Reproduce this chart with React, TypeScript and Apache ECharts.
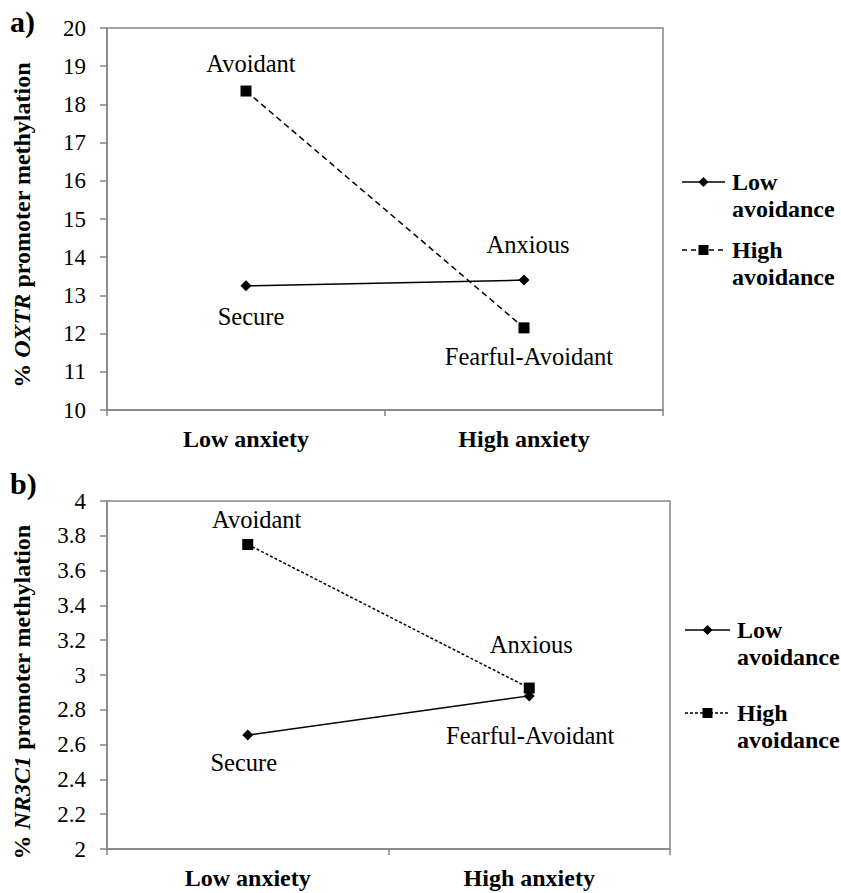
import React, { useEffect, useRef } from 'react';
import * as echarts from 'echarts';

const categories = ['Low anxiety', 'High anxiety'];
const seriesNames = ['Low avoidance', 'High avoidance'];
const legendLines = [['Low', 'avoidance'], ['High', 'avoidance']];
const oxtrLowAvoid = [13.25, 13.4];
const oxtrHighAvoid = [18.35, 12.15];
const nr3c1LowAvoid = [2.655, 2.88];
const nr3c1HighAvoid = [3.75, 2.925];
const lowAvoidStyles = ['Secure', 'Anxious'];
const highAvoidStyles = ['Avoidant', 'Fearful-Avoidant'];
const oxtrRange = { min: 10, max: 20, interval: 1 };
const nr3c1Range = { min: 2, max: 4, interval: 0.2 };

const FONT = 'Liberation Serif';

// label offsets (styling)
const offA = { low: [[5, 31], [4, -36]], high: [[5, -28], [5, 29]] };
const offB = { low: [[-4, 27], [2, -51]], high: [[9, -25], [1, 47]] };

function mkData(values: number[], names: string[], offs: number[][]) {
  return values.map((v, i) => ({
    value: v,
    label: {
      show: true,
      position: 'inside',
      offset: offs[i],
      formatter: names[i],
      fontFamily: FONT,
      fontSize: 24.5,
      color: '#000',
    },
  }));
}

function legendGraphics(x0: number, x1: number, yLow: number, yHigh: number, dashB: number[]) {
  const xm = (x0 + x1) / 2;
  const d = 5;
  const textStyle = (y: number, lines: string[]) => ({
    type: 'text',
    x: x1 + 7,
    y: y - 14,
    style: {
      text: lines.join('\n'),
      fontFamily: FONT,
      fontSize: 24,
      fontWeight: 'bold',
      fill: '#000',
      lineHeight: 27,
      verticalAlign: 'top',
    },
  });
  return [
    { type: 'line', shape: { x1: x0, y1: yLow, x2: x1, y2: yLow }, style: { stroke: '#000', lineWidth: 1.5 } },
    {
      type: 'polygon',
      shape: { points: [[xm, yLow - d], [xm + d, yLow], [xm, yLow + d], [xm - d, yLow]] },
      style: { fill: '#000' },
    },
    textStyle(yLow, legendLines[0]),
    {
      type: 'line',
      shape: { x1: x0, y1: yHigh, x2: x1, y2: yHigh },
      style: { stroke: '#000', lineWidth: 1.5, lineDash: dashB },
    },
    { type: 'rect', shape: { x: xm - 5, y: yHigh - 5, width: 10, height: 10 }, style: { fill: '#000' } },
    textStyle(yHigh, legendLines[1]),
  ];
}

export default function App() {
  const ref = useRef<HTMLDivElement>(null);
  useEffect(() => {
    if (!ref.current) return;
    const chart = echarts.init(ref.current, null, { renderer: 'svg' });
    const axisColor = '#858585';
    const xAxisBase = {
      type: 'category',
      data: categories,
      boundaryGap: true,
      axisLine: { lineStyle: { color: axisColor, width: 1.5 } },
      axisTick: { show: true, length: 6, lineStyle: { color: axisColor, width: 1.5 } },
      axisLabel: { fontFamily: FONT, fontSize: 24, fontWeight: 'bold', color: '#000', margin: 17 },
      splitLine: { show: false },
    };
    const yAxisBase = {
      type: 'value',
      axisLine: { show: true, lineStyle: { color: axisColor, width: 1.5 } },
      axisTick: { show: true, length: 7, lineStyle: { color: axisColor, width: 1.5 } },
      axisLabel: { fontFamily: FONT, fontSize: 23, color: '#000', margin: 21 },
      splitLine: { show: false },
    };
    const lineSeries = (name: string, x: number, data: any[], symbol: string, size: number, dash: any) => ({
      type: 'line',
      name,
      xAxisIndex: x,
      yAxisIndex: x,
      data,
      symbol,
      symbolSize: size,
      lineStyle: { color: '#000', width: 1.5, type: dash },
      itemStyle: { color: '#000' },
      z: 3,
    });
    const rich = {
      b: { fontFamily: FONT, fontSize: 24, fontWeight: 'bold', fill: '#000' },
      i: { fontFamily: FONT, fontSize: 24, fontWeight: 'bold', fontStyle: 'italic', fill: '#000' },
    };
    chart.setOption({
      animation: false,
      backgroundColor: '#fff',
      grid: [
        { left: 107, top: 28, width: 556, height: 382, show: true, borderColor: axisColor, borderWidth: 1.5, backgroundColor: 'transparent' },
        { left: 107, top: 501, width: 563, height: 348, show: true, borderColor: axisColor, borderWidth: 1.5, backgroundColor: 'transparent' },
      ],
      xAxis: [
        { ...xAxisBase, gridIndex: 0 },
        { ...xAxisBase, gridIndex: 1 },
      ],
      yAxis: [
        { ...yAxisBase, gridIndex: 0, ...oxtrRange },
        {
          ...yAxisBase,
          gridIndex: 1,
          ...nr3c1Range,
          axisLabel: { ...yAxisBase.axisLabel, formatter: (v: number) => String(Math.round(v * 10) / 10) },
        },
      ],
      series: [
        lineSeries(seriesNames[0], 0, mkData(oxtrLowAvoid, lowAvoidStyles, offA.low), 'diamond', 11, 'solid'),
        lineSeries(seriesNames[1], 0, mkData(oxtrHighAvoid, highAvoidStyles, offA.high), 'rect', 11, [6, 4]),
        lineSeries(seriesNames[0], 1, mkData(nr3c1LowAvoid, lowAvoidStyles, offB.low), 'diamond', 11, 'solid'),
        lineSeries(seriesNames[1], 1, mkData(nr3c1HighAvoid, highAvoidStyles, offB.high), 'rect', 11, [3, 2]),
      ],
      graphic: [
        { type: 'text', x: 10, y: 6, style: { text: 'a)', fontFamily: FONT, fontSize: 30, fontWeight: 'bold', fill: '#000' } },
        { type: 'text', x: 10, y: 468, style: { text: 'b)', fontFamily: FONT, fontSize: 30, fontWeight: 'bold', fill: '#000' } },
        {
          type: 'text',
          x: 22,
          y: 225,
          rotation: Math.PI / 2,
          style: { text: '{b|% }{i|OXTR}{b| promoter methylation}', align: 'center', verticalAlign: 'middle', rich },
        },
        {
          type: 'text',
          x: 22,
          y: 692,
          rotation: Math.PI / 2,
          style: { text: '{b|% }{i|NR3C1}{b| promoter methylation}', align: 'center', verticalAlign: 'middle', rich },
        },
        ...legendGraphics(682, 725, 182, 250, [5, 4]),
        ...legendGraphics(685, 730, 630, 713, [3, 2]),
      ],
    });
    return () => chart.dispose();
  }, []);
  return <div ref={ref} style={{ position: 'absolute', left: 0, top: 0, width: 841, height: 893 }} />;
}
